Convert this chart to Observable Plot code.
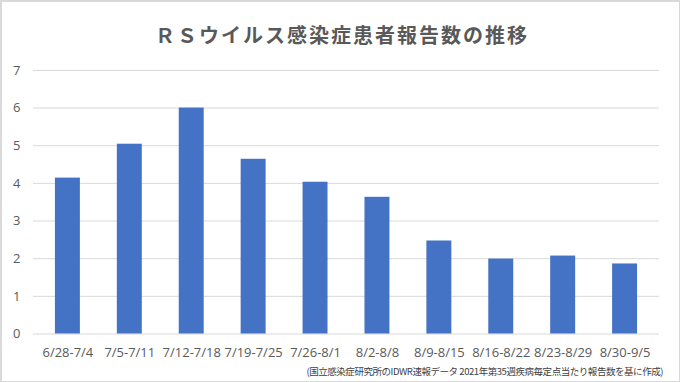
<!DOCTYPE html>
<html><head><meta charset="utf-8">
<script src="https://cdn.jsdelivr.net/npm/d3@7"></script>
<script src="https://cdn.jsdelivr.net/npm/@observablehq/plot@0.6"></script>
<style>
html,body{margin:0;padding:0;background:#fff;}
#wrap{position:relative;width:680px;height:382px;box-sizing:border-box;border:1px solid #d9d9d9;border-top:2px solid #d9d9d9;border-left:2px solid #d9d9d9;overflow:hidden;font-family:"Noto Sans CJK JP","Noto Sans",sans-serif;}
#title{position:absolute;left:2px;top:19px;width:676px;text-align:center;font-size:20px;font-weight:600;color:#595959;letter-spacing:2px;line-height:28px;}
#chart{position:absolute;left:-2px;top:-2px;}
#cap{position:absolute;right:16px;top:362px;font-size:9.5px;color:#404040;line-height:14px;letter-spacing:-0.45px;}
</style></head>
<body><div id="wrap"><div id="title">ＲＳウイルス感染症患者報告数の推移</div><div id="chart"></div><div id="cap">(国立感染症研究所のIDWR速報データ 2021年第35週疾病毎定点当たり報告数を基に作成)</div></div>
<script>
const weeks = ["6/28-7/4","7/5-7/11","7/12-7/18","7/19-7/25","7/26-8/1","8/2-8/8","8/9-8/15","8/16-8/22","8/23-8/29","8/30-9/5"];
const reports = [4.14,5.04,6.0,4.64,4.03,3.63,2.47,1.99,2.07,1.86];
const yTicks = [0,1,2,3,4,5,6,7];
const data = weeks.map((w,i)=>({week:w, value:reports[i]}));
const chart = Plot.plot({
  width:680, height:382,
  marginTop:70, marginBottom:48, marginLeft:33, marginRight:20,
  style:{fontFamily:"'Open Sans','Noto Sans',sans-serif", fontSize:"13px", color:"#595959", background:"transparent"},
  x:{domain:weeks, paddingInner:0.6, paddingOuter:0.3, label:null, tickSize:0, tickPadding:14},
  y:{domain:[0,7], ticks:yTicks, label:null, tickSize:0, tickPadding:13, tickFormat:d=>d},
  marks:[
    Plot.ruleY(yTicks,{stroke:"#d9d9d9", strokeWidth:1}),
    Plot.barY(data,{x:"week", y:"value", fill:"#4472C4"})
  ]
});
document.getElementById("chart").appendChild(chart);
</script></body></html>
